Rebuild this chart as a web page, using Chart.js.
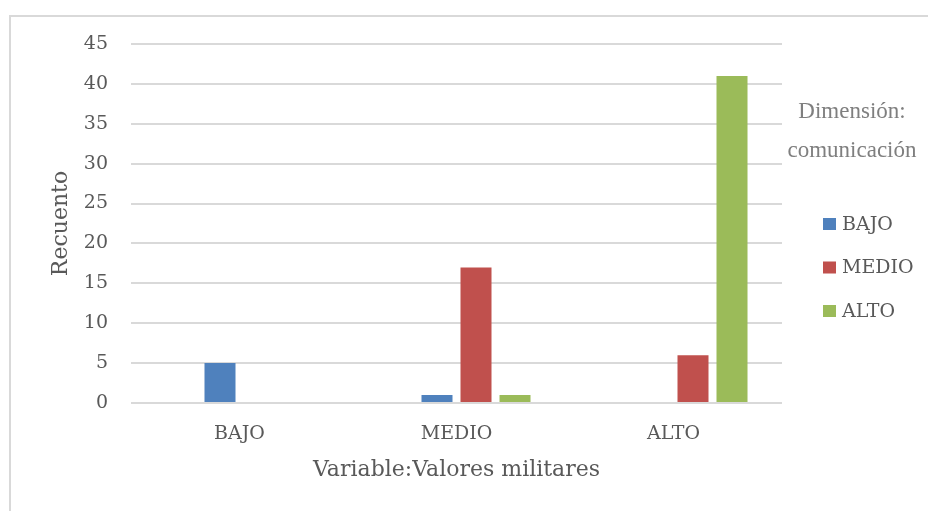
<!DOCTYPE html>
<html>
<head>
<meta charset="utf-8">
<script src="https://cdn.jsdelivr.net/npm/chart.js@4"></script>
<style>
    body { margin: 0; background: #fff; overflow: hidden; }
    #wrap { position: relative; width: 928px; height: 511px; }
    #frame {
        position: absolute; left: 9px; top: 15px; width: 1000px; height: 600px;
        border-left: 2px solid #d9d9d9; border-top: 2px solid #d9d9d9;
    }
    canvas { position: absolute; left: 0; top: 0; }
</style>
</head>
<body>
<div id="wrap">
    <div id="frame"></div>
    <canvas id="chart" width="928" height="511"></canvas>
</div>
<script>
// Data (one value per category BAJO / MEDIO / ALTO)
const categories = ['BAJO', 'MEDIO', 'ALTO'];
const seriesNames = ['BAJO', 'MEDIO', 'ALTO'];
const bajoValues = [5, 1, 0];
const medioValues = [0, 17, 6];
const altoValues = [0, 1, 41];
const seriesColors = ['#4F81BD', '#C0504D', '#9BBB59'];
const yTicks = [0, 5, 10, 15, 20, 25, 30, 35, 40, 45];
const legendTitle = ['Dimensión:', 'comunicación'];
const xTitle = 'Variable:Valores militares';
const yTitle = 'Recuento';

const textColor = '#595959';
const gridColor = '#d9d9d9';
const tickFont = { family: 'DejaVu Serif', size: 19 };

// Excel placed the groups off-centre: an empty leading slot reproduces that
const datasets = [
    { label: '', data: [null, null, null], backgroundColor: 'rgba(0,0,0,0)' },
    { label: seriesNames[0], data: bajoValues, backgroundColor: seriesColors[0] },
    { label: seriesNames[1], data: medioValues, backgroundColor: seriesColors[1] },
    { label: seriesNames[2], data: altoValues, backgroundColor: seriesColors[2] }
];

// Legend drawn at the right, like the Excel one
const sideLegend = {
    id: 'sideLegend',
    afterDraw(chart) {
        const ctx = chart.ctx;
        ctx.save();
        ctx.textBaseline = 'middle';
        ctx.textAlign = 'center';
        ctx.fillStyle = '#7f7f7f';
        ctx.font = '23px "Liberation Serif"';
        ctx.fillText(legendTitle[0], 852, 112);
        ctx.fillText(legendTitle[1], 852, 151);

        ctx.textAlign = 'left';
        ctx.font = '19px "DejaVu Serif"';
        let y = 224;
        chart.data.datasets.forEach(ds => {
            if (!ds.label) return;
            ctx.fillStyle = ds.backgroundColor;
            ctx.fillRect(823, y - 6, 13, 12);
            ctx.fillStyle = textColor;
            ctx.fillText(ds.label, 842, y + 1);
            y += 43.5;
        });
        ctx.restore();
    }
};

new Chart(document.getElementById('chart'), {
    type: 'bar',
    data: { labels: categories, datasets: datasets },
    options: {
        responsive: false,
        animation: false,
        layout: { padding: { top: 44, right: 146, bottom: 0, left: 0 } },
        datasets: {
            bar: { categoryPercentage: 0.719, barPercentage: 0.795, borderWidth: 0 }
        },
        plugins: {
            legend: { display: false },
            tooltip: { enabled: false }
        },
        scales: {
            x: {
                grid: { display: false, drawTicks: false },
                border: { display: false },
                ticks: { color: textColor, font: tickFont, padding: 20, maxRotation: 0 },
                title: {
                    display: true, text: xTitle, color: textColor,
                    font: { family: 'DejaVu Serif', size: 22 },
                    padding: { top: 0, bottom: 28 }
                },
                afterFit(scale) { scale.height = 108; }
            },
            y: {
                min: 0,
                max: 45,
                afterBuildTicks(scale) { scale.ticks = yTicks.map(v => ({ value: v })); },
                grid: { color: gridColor, lineWidth: 2, drawTicks: false },
                border: { display: false },
                ticks: { color: textColor, font: tickFont, padding: 23 },
                title: {
                    display: true, text: yTitle, color: textColor,
                    font: { family: 'DejaVu Serif', size: 22 },
                    padding: { top: 48, bottom: 0 }
                },
                afterFit(scale) { scale.width = 131; }
            }
        }
    },
    plugins: [sideLegend]
});
</script>
</body>
</html>
